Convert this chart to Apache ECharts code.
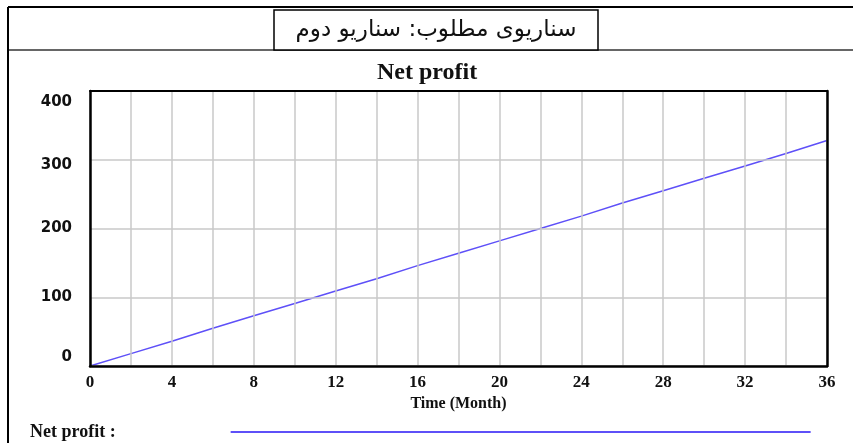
<!DOCTYPE html>
<html>
<head>
<meta charset="utf-8">
<script src="https://cdn.jsdelivr.net/npm/echarts@6/dist/echarts.min.js"></script>
<style>
html,body{margin:0;padding:0;background:#fff;}
#main{width:853px;height:443px;}
</style>
</head>
<body>
<div id="main"></div>
<script>
// 数据：月份 与 净利润
var months = [0, 2, 4, 6, 8, 10, 12, 14, 16, 18, 20, 22, 24, 26, 28, 30, 32, 34, 36];
var netProfit = [0, 18, 36, 55, 73, 91, 109, 127, 146, 164, 182, 200, 218, 237, 255, 273, 291, 309, 328];
var yTicks = [0, 100, 200, 300, 400];
var headerText = 'سناریوی مطلوب: سناریو دوم';

var chart = echarts.init(document.getElementById('main'));

var points = [];
for (var i = 0; i < months.length; i++) {
	points.push([months[i], netProfit[i]]);
}

// y轴标签上下的小偏移（原图标签并不正好对准网格线）
var yShift = {0: -9, 100: 0, 200: 0, 300: 5, 400: 11};

var option = {
	animation: false,
	title: {
		text: 'Net profit',
		left: 372,
		top: 56,
		textStyle: {
			fontFamily: 'Liberation Serif',
			fontSize: 24,
			fontWeight: 'bold',
			color: '#111'
		}
	},
	legend: {
		data: ['Net profit'],
		left: 25,
		top: 418,
		align: 'right',
		icon: 'rect',
		itemWidth: 580,
		itemHeight: 2,
		selectedMode: false,
		formatter: function(name) {
			return name + ' :';
		},
		textStyle: {
			fontFamily: 'Liberation Serif',
			fontSize: 18,
			fontWeight: 'bold',
			color: '#111',
			padding: [0, 110, 0, 0]
		}
	},
	grid: {
		left: 90,
		right: 26,
		top: 91,
		bottom: 77
	},
	xAxis: [{
		type: 'value',
		min: 0,
		max: 36,
		interval: 2,
		name: 'Time (Month)',
		nameLocation: 'middle',
		nameGap: 30,
		nameTextStyle: {
			fontFamily: 'Liberation Serif',
			fontSize: 16,
			fontWeight: 'bold',
			color: '#111'
		},
		axisLine: {lineStyle: {color: '#000', width: 2.5}},
		axisTick: {show: false},
		axisLabel: {
			margin: 8,
			fontFamily: 'Liberation Serif',
			fontSize: 17,
			fontWeight: 'bold',
			color: '#111',
			formatter: function(v) {
				return v % 4 === 0 ? String(v) : '';
			}
		},
		splitLine: {lineStyle: {color: '#c8c8c8', width: 1.5}},
		z: 5
	}, {
		// 上边框
		type: 'value',
		position: 'top',
		min: 0,
		max: 36,
		axisLine: {show: true, onZero: false, lineStyle: {color: '#000', width: 2}},
		axisTick: {show: false},
		axisLabel: {show: false},
		splitLine: {show: false},
		z: 5
	}],
	yAxis: [{
		type: 'value',
		min: 0,
		max: 400,
		interval: 100,
		axisLine: {show: true, lineStyle: {color: '#000', width: 2.5}},
		axisTick: {show: false},
		axisLabel: {
			margin: 18,
			color: '#111',
			formatter: function(v) {
				var d = yShift[v] || 0;
				return d >= 0 ? '{d' + d + '|' + v + '}' : '{u' + (-d) + '|' + v + '}';
			},
			rich: {
				d0: {fontFamily: 'DejaVu Sans', fontSize: 15, fontWeight: 'bold', color: '#111'},
				d5: {fontFamily: 'DejaVu Sans', fontSize: 15, fontWeight: 'bold', color: '#111', padding: [10, 0, 0, 0]},
				d11: {fontFamily: 'DejaVu Sans', fontSize: 15, fontWeight: 'bold', color: '#111', padding: [22, 0, 0, 0]},
				u9: {fontFamily: 'DejaVu Sans', fontSize: 15, fontWeight: 'bold', color: '#111', padding: [0, 0, 18, 0]}
			}
		},
		splitLine: {lineStyle: {color: '#c8c8c8', width: 1.5}},
		z: 5
	}, {
		// 右边框
		type: 'value',
		position: 'right',
		min: 0,
		max: 400,
		axisLine: {show: true, onZero: false, lineStyle: {color: '#000', width: 2.5}},
		axisTick: {show: false},
		axisLabel: {show: false},
		splitLine: {show: false},
		z: 5
	}],
	series: [{
		name: 'Net profit',
		type: 'line',
		data: points,
		symbol: 'none',
		lineStyle: {color: '#5e50f8', width: 1.5},
		itemStyle: {color: '#5e50f8'}
	}],
	graphic: [
		// 外框
		{type: 'line', shape: {x1: 8, y1: 7, x2: 853, y2: 7}, style: {stroke: '#000', lineWidth: 2}},
		{type: 'line', shape: {x1: 8, y1: 50, x2: 853, y2: 50}, style: {stroke: '#333', lineWidth: 1.5}},
		{type: 'line', shape: {x1: 8, y1: 7, x2: 8, y2: 443}, style: {stroke: '#000', lineWidth: 2}},
		// 标题框
		{type: 'rect', shape: {x: 274, y: 10, width: 324, height: 40}, style: {fill: '#fff', stroke: '#000', lineWidth: 1.5}},
		{
			type: 'text',
			x: 436,
			y: 30,
			style: {
				text: headerText,
				font: '23px "DejaVu Sans"',
				fill: '#111',
				align: 'center',
				verticalAlign: 'middle'
			}
		}
	]
};
chart.setOption(option);
</script>
</body>
</html>
